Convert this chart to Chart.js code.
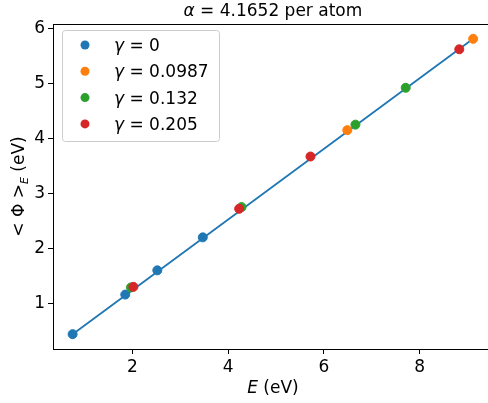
<!DOCTYPE html>
<html>
<head>
<meta charset="utf-8">
<script src="https://cdn.jsdelivr.net/npm/chart.js@4"></script>
<style>
  html, body { margin: 0; padding: 0; background: #fff; }
</style>
</head>
<body>
<canvas id="chart" width="488" height="403"></canvas>
<script>
// values
const gammaLabels = ["0", "0.0987", "0.132", "0.205"];
const gammaColors = ["#1f77b4", "#ff7f0e", "#2ca02c", "#d62728"];

const energyG0 = [0.75, 1.85, 2.52, 3.47];
const phiG0 = [0.45, 1.17, 1.61, 2.21];
const energyG1 = [6.49, 9.12];
const phiG1 = [4.16, 5.82];
const energyG2 = [1.97, 4.28, 6.66, 7.71];
const phiG2 = [1.30, 2.76, 4.26, 4.93];
const energyG3 = [2.02, 4.23, 5.72, 8.83];
const phiG3 = [1.31, 2.73, 3.68, 5.63];

const fitEnergy = [0.75, 9.12];
const fitPhi = [0.45, 5.82];

const xTicks = [2, 4, 6, 8];
const yTicks = [1, 2, 3, 4, 5, 6];
const xLimits = [0.34, 9.43]; // the original axis runs on a little past the canvas edge
const xFullMax = 9.53;
const yLimits = [0.18, 6.09];

const FONT = "DejaVu Sans";

function toPoints(xs, ys) {
  return xs.map((x, i) => ({ x: x, y: ys[i] }));
}

const seriesE = [energyG0, energyG1, energyG2, energyG3];
const seriesPhi = [phiG0, phiG1, phiG2, phiG3];

const datasets = [{
  label: "fit",
  data: toPoints(fitEnergy, fitPhi),
  showLine: true,
  borderColor: gammaColors[0],
  borderWidth: 1.8,
  pointRadius: 0,
  order: 5,
}];
gammaLabels.forEach((g, i) => {
  datasets.push({
    label: g,
    data: toPoints(seriesE[i], seriesPhi[i]),
    backgroundColor: gammaColors[i],
    borderColor: gammaColors[i],
    borderWidth: 1,
    pointRadius: 4.5,
    order: 4 - i,
  });
});

// draws text made of parts with different fonts / offsets
function drawParts(ctx, parts, x, y) {
  let total = 0;
  parts.forEach(p => { ctx.font = p.font; total += ctx.measureText(p.text).width; });
  let cx = x - total / 2;
  parts.forEach(p => {
    ctx.font = p.font;
    ctx.fillText(p.text, cx, y + (p.dy || 0));
    cx += ctx.measureText(p.text).width;
  });
}

const extras = {
  id: "extras",
  afterDraw(chart) {
    const ctx = chart.ctx;
    const area = chart.chartArea;
    const reg = "17px '" + FONT + "'";
    const ita = "italic 17px '" + FONT + "'";
    ctx.save();
    ctx.fillStyle = "#000";
    ctx.textBaseline = "alphabetic";

    // top spine
    ctx.strokeStyle = "#000";
    ctx.lineWidth = 1;
    ctx.beginPath();
    ctx.moveTo(area.left, Math.round(area.top) + 0.5);
    ctx.lineTo(chart.width, Math.round(area.top) + 0.5);
    ctx.stroke();

    const cx = chart.scales.x.getPixelForValue((xLimits[0] + xFullMax) / 2);
    // title
    drawParts(ctx, [{ text: "α", font: ita }, { text: " = 4.1652 per atom", font: reg }], cx, area.top - 8);
    // x title
    drawParts(ctx, [{ text: "E", font: ita }, { text: " (eV)", font: reg }], cx, area.bottom + 44);
    // y title
    ctx.save();
    ctx.translate(24, (area.top + area.bottom) / 2);
    ctx.rotate(-Math.PI / 2);
    drawParts(ctx, [
      { text: "< Φ >", font: reg },
      { text: "E", font: "italic 11px '" + FONT + "'", dy: 4 },
      { text: " (eV)", font: reg },
    ], 0, 0);
    ctx.restore();

    // legend
    const lx = area.left + 9, ly = area.top + 6, lw = 157, lh = 111;
    ctx.beginPath();
    ctx.roundRect(lx + 0.5, ly + 0.5, lw, lh, 3);
    ctx.fillStyle = "rgba(255,255,255,0.8)";
    ctx.fill();
    ctx.strokeStyle = "#cccccc";
    ctx.stroke();
    gammaLabels.forEach((g, i) => {
      const ry = ly + 15 + i * 26.3;
      ctx.beginPath();
      ctx.arc(lx + 23, ry, 4.5, 0, Math.PI * 2);
      ctx.fillStyle = gammaColors[i];
      ctx.fill();
      ctx.fillStyle = "#000";
      ctx.textAlign = "left";
      let tx = lx + 52;
      ctx.font = ita;
      ctx.fillText("γ", tx, ry + 6);
      tx += ctx.measureText("γ").width;
      ctx.font = reg;
      ctx.fillText(" = " + g, tx, ry + 6);
    });
    ctx.restore();
  }
};

const tickFont = { family: FONT, size: 17 };

new Chart(document.getElementById("chart").getContext("2d"), {
  type: "scatter",
  data: { datasets: datasets },
  options: {
    responsive: false,
    animation: false,
    devicePixelRatio: 1,
    layout: { autoPadding: false, padding: { top: 24, left: 0, right: 0, bottom: 0 } },
    plugins: { legend: { display: false }, tooltip: { enabled: false } },
    scales: {
      x: {
        type: "linear",
        min: xLimits[0],
        max: xLimits[1],
        afterBuildTicks: s => { s.ticks = xTicks.map(v => ({ value: v })); },
        afterFit: s => { s.height = 54; s.paddingRight = 0; },
        grid: { drawOnChartArea: false, tickLength: 5, color: "#000" },
        border: { color: "#000", width: 1 },
        ticks: { font: tickFont, color: "#000", padding: 3, maxRotation: 0 },
      },
      y: {
        type: "linear",
        min: yLimits[0],
        max: yLimits[1],
        afterBuildTicks: s => { s.ticks = yTicks.map(v => ({ value: v })); },
        afterFit: s => { s.width = 53; },
        grid: { drawOnChartArea: false, tickLength: 5, color: "#000" },
        border: { color: "#000", width: 1 },
        ticks: { font: tickFont, color: "#000", padding: 3 },
      },
    },
  },
  plugins: [extras],
});
</script>
</body>
</html>
